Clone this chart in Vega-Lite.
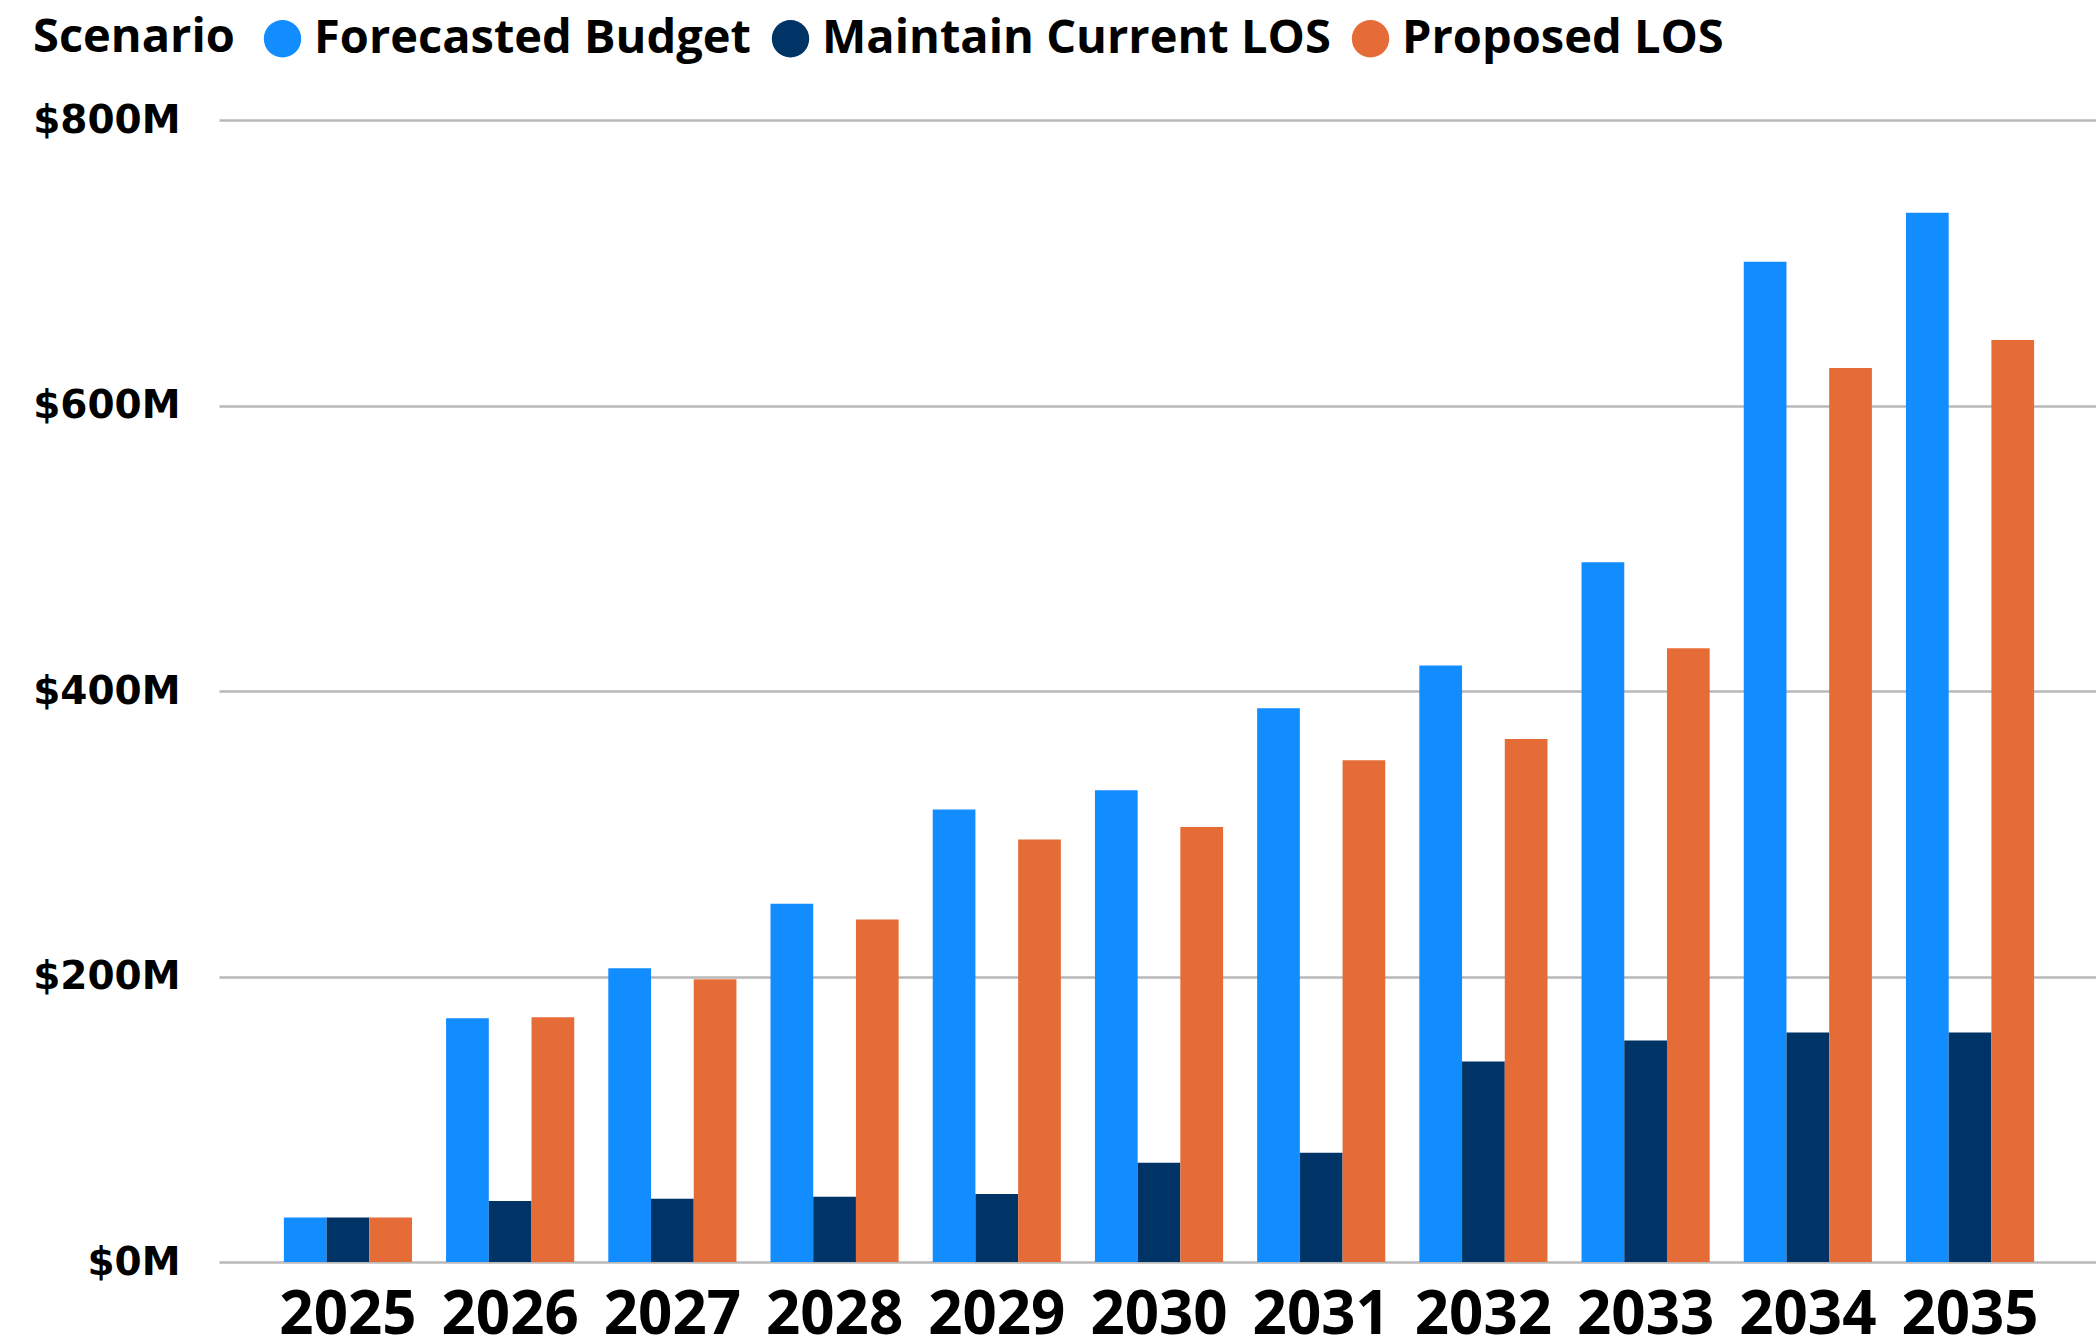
{
  "$schema": "https://vega.github.io/schema/vega-lite/v6.json",
  "width": 1880,
  "height": 1142,
  "autosize": {"type": "none"},
  "padding": {"left": 219, "top": 120, "right": 0, "bottom": 80},
  "background": "white",
  "config": {"view": {"stroke": null}},
  "data": {
    "values": [
      {"year": "2025", "scenario": "Forecasted Budget", "value": 31.2},
      {"year": "2025", "scenario": "Maintain Current LOS", "value": 31.2},
      {"year": "2025", "scenario": "Proposed LOS", "value": 31.2},
      {"year": "2026", "scenario": "Forecasted Budget", "value": 170.8},
      {"year": "2026", "scenario": "Maintain Current LOS", "value": 42.8},
      {"year": "2026", "scenario": "Proposed LOS", "value": 171.5},
      {"year": "2027", "scenario": "Forecasted Budget", "value": 205.8},
      {"year": "2027", "scenario": "Maintain Current LOS", "value": 44.3},
      {"year": "2027", "scenario": "Proposed LOS", "value": 198.1},
      {"year": "2028", "scenario": "Forecasted Budget", "value": 251},
      {"year": "2028", "scenario": "Maintain Current LOS", "value": 45.7},
      {"year": "2028", "scenario": "Proposed LOS", "value": 240},
      {"year": "2029", "scenario": "Forecasted Budget", "value": 317},
      {"year": "2029", "scenario": "Maintain Current LOS", "value": 47.7},
      {"year": "2029", "scenario": "Proposed LOS", "value": 296},
      {"year": "2030", "scenario": "Forecasted Budget", "value": 330.4},
      {"year": "2030", "scenario": "Maintain Current LOS", "value": 69.6},
      {"year": "2030", "scenario": "Proposed LOS", "value": 304.7},
      {"year": "2031", "scenario": "Forecasted Budget", "value": 387.9},
      {"year": "2031", "scenario": "Maintain Current LOS", "value": 76.6},
      {"year": "2031", "scenario": "Proposed LOS", "value": 351.5},
      {"year": "2032", "scenario": "Forecasted Budget", "value": 417.8},
      {"year": "2032", "scenario": "Maintain Current LOS", "value": 140.5},
      {"year": "2032", "scenario": "Proposed LOS", "value": 366.4},
      {"year": "2033", "scenario": "Forecasted Budget", "value": 490.2},
      {"year": "2033", "scenario": "Maintain Current LOS", "value": 155.2},
      {"year": "2033", "scenario": "Proposed LOS", "value": 430},
      {"year": "2034", "scenario": "Forecasted Budget", "value": 700.7},
      {"year": "2034", "scenario": "Maintain Current LOS", "value": 160.8},
      {"year": "2034", "scenario": "Proposed LOS", "value": 626.2},
      {"year": "2035", "scenario": "Forecasted Budget", "value": 735},
      {"year": "2035", "scenario": "Maintain Current LOS", "value": 160.8},
      {"year": "2035", "scenario": "Proposed LOS", "value": 645.8}
    ]
  },
  "mark": {"type": "bar"},
  "encoding": {
    "x": {
      "field": "year",
      "type": "ordinal",
      "scale": {"paddingInner": 0.21, "paddingOuter": 0.4},
      "axis": {
        "title": null,
        "labelAngle": 0,
        "labelFont": "Open Sans",
        "labelFontSize": 60,
        "labelFontWeight": "bold",
        "labelColor": "#000000",
        "labelPadding": 24,
        "ticks": false,
        "domain": false,
        "grid": false
      }
    },
    "xOffset": {
      "field": "scenario",
      "type": "nominal",
      "scale": {"paddingInner": 0, "paddingOuter": 0}
    },
    "y": {
      "field": "value",
      "type": "quantitative",
      "scale": {"domain": [0, 800], "nice": false},
      "axis": {
        "title": null,
        "values": [0, 200, 400, 600, 800],
        "labelExpr": "'$' + datum.value + 'M'",
        "labelFont": "DejaVu Sans",
        "labelFontSize": 39,
        "labelFontWeight": "bold",
        "labelColor": "#000000",
        "labelPadding": 39,
        "ticks": false,
        "domain": false,
        "grid": true,
        "gridColor": "#b8b8b8",
        "gridWidth": 2.5
      }
    },
    "color": {
      "field": "scenario",
      "type": "nominal",
      "scale": {
        "domain": ["Forecasted Budget", "Maintain Current LOS", "Proposed LOS"],
        "range": ["#118DFF", "#003366", "#E66C37"]
      },
      "legend": {
        "title": "Scenario",
        "orient": "none",
        "legendX": -186,
        "legendY": -105,
        "direction": "horizontal",
        "titleOrient": "left",
        "titleFont": "Open Sans",
        "titleFontSize": 47,
        "titleFontWeight": "bold",
        "titleColor": "#000000",
        "titlePadding": 24,
        "titleLimit": 0,
        "labelFont": "Open Sans",
        "labelFontSize": 47,
        "labelFontWeight": "bold",
        "labelColor": "#000000",
        "labelLimit": 0,
        "labelOffset": 8,
        "columnPadding": 16,
        "symbolType": "circle",
        "symbolSize": 1400,
        "symbolStrokeWidth": 0,
        "symbolOpacity": 1
      }
    }
  }
}
